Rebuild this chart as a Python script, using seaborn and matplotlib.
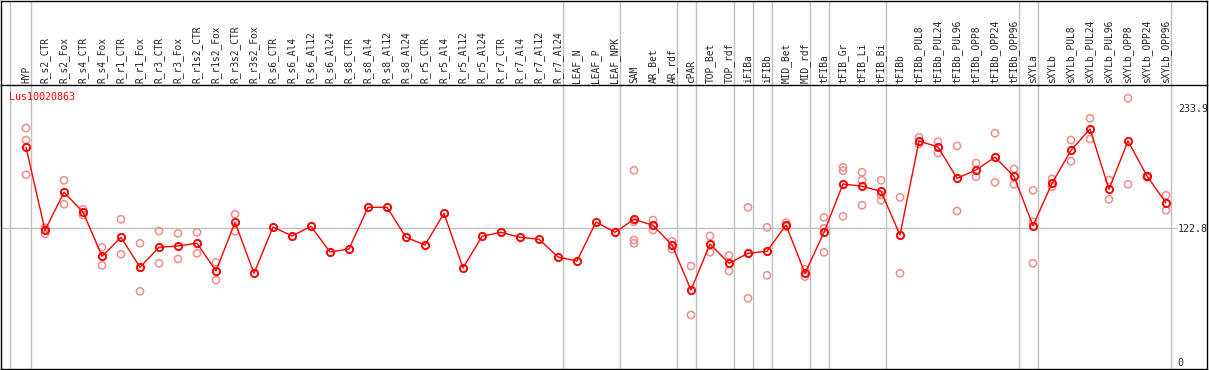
import numpy as np
import pandas as pd
import matplotlib
matplotlib.use("Agg")
import matplotlib.pyplot as plt
import seaborn as sns

# sample labels (top of chart)
samples = ["HYP", "R_s2_CTR", "R_s2_Fox", "R_s4_CTR", "R_s4_Fox", "R_r1_CTR", "R_r1_Fox",
           "R_r3_CTR", "R_r3_Fox", "R_r1s2_CTR", "R_r1s2_Fox", "R_r3s2_CTR", "R_r3s2_Fox",
           "R_s6_CTR", "R_s6_Al4", "R_s6_Al12", "R_s6_Al24", "R_s8_CTR", "R_s8_Al4", "R_s8_Al12",
           "R_s8_Al24", "R_r5_CTR", "R_r5_Al4", "R_r5_Al12", "R_r5_Al24", "R_r7_CTR", "R_r7_Al4",
           "R_r7_Al12", "R_r7_Al24", "LEAF_N", "LEAF_P", "LEAF_NPK", "SAM", "AR_Bet", "AR_rdf",
           "cPAR", "TOP_Bet", "TOP_rdf", "iFIBa", "iFIBb", "MID_Bet", "MID_rdf", "tFIBa",
           "tFIB_Gr", "tFIB_Li", "tFIB_Bi", "tFIBb", "tFIBb_PUL8", "tFIBb_PUL24", "tFIBb_PUL96",
           "tFIBb_OPP8", "tFIBb_OPP24", "tFIBb_OPP96", "sXYLa", "sXYLb", "sXYLb_PUL8",
           "sXYLb_PUL24", "sXYLb_PUL96", "sXYLb_OPP8", "sXYLb_OPP24", "sXYLb_OPP96"]

# mean expression per sample
means = [197.4, 121.0, 155.9, 137.8, 97.0, 114.5, 86.9, 105.3, 106.5, 109.0, 83.5, 128.3, 81.4,
         124.0, 115.7, 124.6, 101.0, 103.7, 142.1, 142.1, 114.5, 107.4, 136.6, 86.3, 115.4,
         119.1, 114.5, 112.7, 96.4, 92.7, 128.6, 119.1, 131.1, 125.5, 107.4, 66.0, 108.3, 90.6,
         99.8, 101.6, 125.8, 81.4, 119.1, 163.6, 161.5, 156.8, 116.6, 203.2, 197.6, 168.8,
         176.5, 188.2, 170.6, 125.2, 164.2, 194.6, 214.2, 158.7, 203.2, 170.9, 146.1]

# individual replicates
replicates = {
    "HYP": [215.0, 204.0, 172.0],
    "R_s2_CTR": [123.4, 121.5, 117.6],
    "R_s2_Fox": [167.0, 144.9],
    "R_s4_CTR": [140.3, 135.0],
    "R_s4_Fox": [105.3, 88.7],
    "R_r1_CTR": [131.1, 98.9],
    "R_r1_Fox": [109.0, 64.8],
    "R_r3_CTR": [120.3, 90.6],
    "R_r3_Fox": [118.2, 94.5],
    "R_r1s2_CTR": [119.1, 99.8],
    "R_r1s2_Fox": [91.5, 75.2],
    "R_r3s2_CTR": [135.7, 120.0],
    "SAM": [176.2, 128.9, 112.0, 109.0],
    "AR_Bet": [130.4, 125.5, 121.2],
    "AR_rdf": [110.8, 103.5],
    "cPAR": [88.1, 43.0],
    "TOP_Bet": [115.7, 100.7],
    "TOP_rdf": [97.9, 83.5],
    "iFIBa": [142.1, 58.4],
    "iFIBb": [123.7, 79.5],
    "MID_Bet": [128.0, 124.3],
    "MID_rdf": [85.1, 78.3],
    "tFIBa": [132.9, 122.8, 100.7],
    "tFIB_Gr": [179.0, 175.8, 133.8],
    "tFIB_Li": [174.4, 167.0, 144.0],
    "tFIB_Bi": [167.0, 153.5, 148.6],
    "tFIBb": [151.3, 81.4],
    "tFIBb_PUL8": [206.6, 200.4],
    "tFIBb_PUL24": [202.5, 192.1],
    "tFIBb_PUL96": [198.6, 138.7],
    "tFIBb_OPP8": [182.9, 170.3],
    "tFIBb_OPP24": [210.3, 165.1],
    "tFIBb_OPP96": [177.4, 163.3],
    "sXYLa": [157.8, 128.9, 90.6],
    "sXYLb": [168.2, 161.1],
    "sXYLb_PUL8": [204.1, 184.5],
    "sXYLb_PUL24": [224.1, 205.0],
    "sXYLb_PUL96": [167.3, 149.5],
    "sXYLb_OPP8": [242.5, 163.3],
    "sXYLb_OPP24": [170.9, 169.7],
    "sXYLb_OPP96": [153.2, 139.4],
}

# last sample of each group (gray separators)
group_ends = ["HYP", "R_r7_Al24", "LEAF_NPK", "AR_rdf", "cPAR", "TOP_rdf", "iFIBa", "iFIBb",
              "MID_rdf", "tFIBa", "tFIB_Bi", "tFIBb_OPP96", "sXYLa", "sXYLb_OPP96"]

y_ticks = [0, 122.8, 233.9]
y_ticklabels = ["0", "122.8", "233.9"]
gene = "Lus10020863"

sns.set_style("white")
plt.rcParams["font.family"] = ["DejaVu Sans Mono"]

idx = np.arange(len(samples))
pos = {s: i for i, s in enumerate(samples)}
mean_df = pd.DataFrame({"x": idx, "y": means})
rep_df = pd.DataFrame([(pos[k], v) for k, vals in replicates.items() for v in vals],
                      columns=["x", "y"])

W, H = 1209, 370
fig = plt.figure(figsize=(W / 100, H / 100), dpi=100)
hd = fig.add_axes([1 / W, 285 / H, 1206 / W, 84.5 / H])
ax = fig.add_axes([1 / W, 1 / H, 1206 / W, 284 / H])
hd.patch.set_visible(False)

xlim = (-1.316, 62.158)
for a in (ax, hd):
    a.set_xlim(*xlim)
    for s in a.spines.values():
        s.set_color("black")
        s.set_linewidth(1.0)
hd.set_ylim(0, 1)
hd.set_xticks([])
hd.set_yticks([])
hd.spines["bottom"].set_visible(False)

seps = [-0.83] + [pos[g] + 0.25 for g in group_ends]
for sx in seps:
    ax.axvline(sx, color="#c0c0c0", lw=1, zorder=1)
    hd.axvline(sx, color="#c0c0c0", lw=1, zorder=1)
ax.hlines(122.8, xlim[0], 60.6, color="#c0c0c0", lw=1, zorder=1)

sns.scatterplot(data=rep_df, x="x", y="y", ax=ax, marker="o", s=27,
                facecolor="none", edgecolor="#f08c8c", linewidth=1.1, zorder=2)
sns.lineplot(data=mean_df, x="x", y="y", ax=ax, color="red", lw=1, marker="o",
             markersize=5.2, markerfacecolor="none", markeredgecolor="red",
             markeredgewidth=1.4, zorder=3)

ax.set_ylim(-6.72, 254.7)
ax.xaxis.tick_top()
ax.set_xticks(idx, samples, rotation=90, fontsize=6.9)
ax.tick_params(axis="x", length=0, pad=1.4)
ax.yaxis.tick_right()
ax.set_yticks(y_ticks, y_ticklabels, fontsize=7.2)
ax.tick_params(axis="y", length=0, pad=-21)
ax.set_xlabel("")
ax.set_ylabel("")
ax.text(-0.88, 243.7, gene, color="red", fontsize=7.2, va="center", ha="left")

fig.savefig("out.png", dpi=100)
